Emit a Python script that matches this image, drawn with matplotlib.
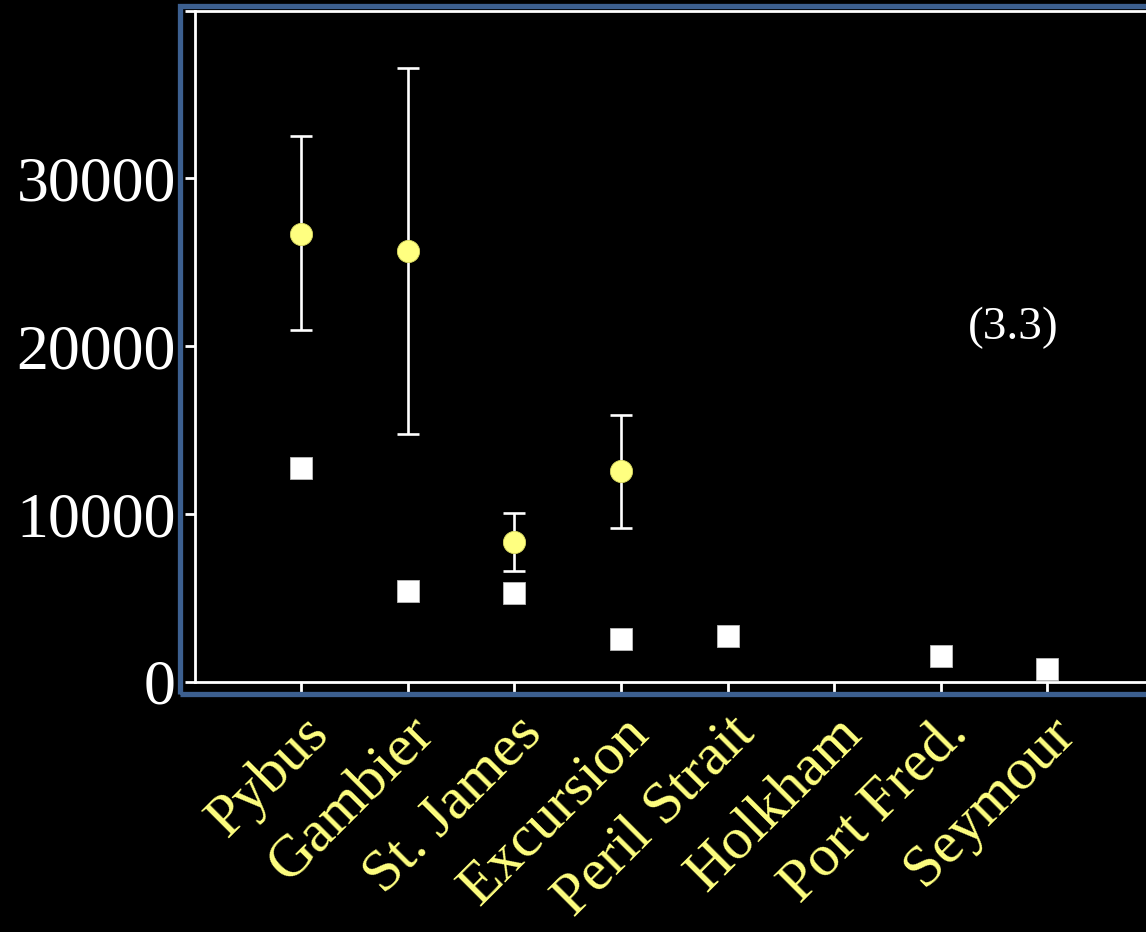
import matplotlib
matplotlib.use("Agg")
import matplotlib.pyplot as plt
from matplotlib.patches import Rectangle
import numpy as np

sites = ["Pybus", "Gambier", "St. James", "Excursion", "Peril Strait", "Holkham", "Port Fred.", "Seymour"]
# circles with error bars (NaN where missing)
mean_est = [26700, 25700, 8350, 12550, np.nan, np.nan, np.nan, np.nan]
upper = [32500, 36600, 10050, 15900, np.nan, np.nan, np.nan, np.nan]
lower = [20950, 14750, 6600, 9200, np.nan, np.nan, np.nan, np.nan]
# white squares
square_est = [12720, 5435, 5315, 2540, 2760, np.nan, 1565, 790]

yticks = [0, 10000, 20000, 30000, 40000]
ylabels = ["0", "10000", "20000", "30000", ""]

yellow = "#ffff80"
blue = "#3c5f8f"

plt.rcParams['font.family'] = ['Liberation Serif', 'DejaVu Serif']

fig = plt.figure(figsize=(11.46, 9.32), dpi=100)
fig.patch.set_facecolor("black")

W, H = 1146.0, 932.0
ax = fig.add_axes([194.5 / W, 250 / H, 1 - 194.5 / W, (682 - 10.5) / H])
ax.set_facecolor("black")

# blue outer frame (runs off the right edge)
fig.patches.append(Rectangle((179.5 / W, (H - 693.5) / H), 1.2, (693.5 - 5.5) / H,
                             transform=fig.transFigure, fill=False,
                             edgecolor=blue, linewidth=3.8, zorder=0))

x = np.arange(1, len(sites) + 1)
mean_est = np.array(mean_est, dtype=float)
upper = np.array(upper, dtype=float)
lower = np.array(lower, dtype=float)
yerr = np.vstack([mean_est - lower, upper - mean_est])

ax.errorbar(x, mean_est, yerr=yerr, fmt="none", ecolor="white",
            elinewidth=1.9, capsize=8, capthick=1.9, zorder=2)
ax.plot(x, mean_est, "o", markersize=16, markerfacecolor=yellow,
        markeredgecolor="#d8d860", markeredgewidth=0.6, linestyle="none", zorder=3)
ax.plot(x, square_est, "s", markersize=16.5, markerfacecolor="white",
        markeredgecolor="#bbbbbb", markeredgewidth=0.6, linestyle="none", zorder=3)

ax.set_xlim(0, (W - 194.5) / 106.6)
ax.set_ylim(0, 40000)

for s in ["left", "bottom", "top"]:
    ax.spines[s].set_color("white")
    ax.spines[s].set_linewidth(2.0)
ax.spines["right"].set_visible(False)

ax.set_yticks(yticks)
ax.set_yticklabels(ylabels, fontsize=46, color="white")
ax.set_xticks(x)
ax.set_xticklabels(sites, fontsize=43, color=yellow, rotation=45,
                   ha="right", va="top", rotation_mode="anchor")
ax.tick_params(axis="both", colors="white", length=7.5, width=2.0)
ax.tick_params(axis="y", pad=6, labelcolor="white")
ax.tick_params(axis="x", pad=10, labelcolor=yellow)

ax.text(7.68, 21100, "(3.3)", fontsize=34, color="white", ha="center", va="center")

fig.savefig("out.png", dpi=100, facecolor="black")
